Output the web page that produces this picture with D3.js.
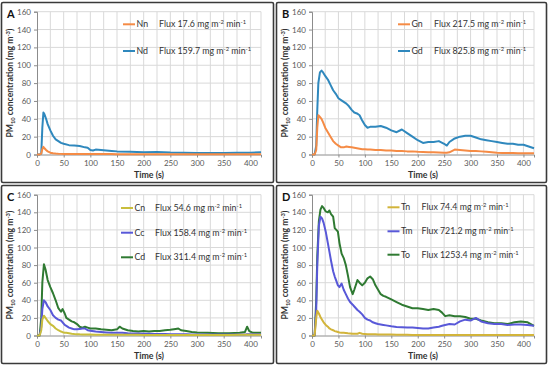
<!DOCTYPE html>
<html>
<head>
<meta charset="utf-8">
<script src="https://cdn.jsdelivr.net/npm/d3@7"></script>
<style>
  html, body { margin: 0; padding: 0; background: #fff; }
  svg { display: block; font-family: Lato, "Open Sans", sans-serif; }
</style>
</head>
<body>
<svg id="chart" width="550" height="367"></svg>
<script>
// Axis ticks shared by all four panels
const xTicks = [0, 50, 100, 150, 200, 250, 300, 350, 400];
const yTicks = [0, 20, 40, 60, 80, 100, 120, 140, 160];

// Panel A
const timeA = [0, 5, 8, 10, 12, 14, 17, 20, 25, 30, 35, 40, 45, 50, 60, 70, 80, 90, 95, 100, 105, 110, 120, 130, 140, 150, 175, 200, 225, 250, 275, 300, 325, 350, 375, 400, 420];
const nd = [0, 0, 1, 30, 47, 45, 40, 34, 27, 21, 17, 15, 13, 12, 10.5, 10, 9.5, 8, 7.5, 5, 4.5, 5.5, 5, 4.5, 4, 3.5, 3, 2.5, 2.8, 2.2, 2, 1.8, 1.7, 1.8, 2, 1.9, 2.5];
const nn = [0, 0, 1, 6, 8.5, 7, 5, 3.5, 2, 1.3, 1, 0.8, 0.7, 0.6, 0.6, 0.5, 0.5, 0.5, 0.5, 0.5, 0.5, 0.5, 0.5, 0.5, 0.5, 0.4, 0.4, 0.4, 0.4, 0.4, 0.4, 0.4, 0.4, 0.4, 0.4, 0.4, 0.4];

// Panel B
const timeB = [0, 5, 8, 10, 12, 15, 18, 21, 25, 30, 35, 40, 45, 50, 55, 60, 65, 70, 75, 80, 85, 90, 95, 100, 105, 110, 120, 130, 140, 150, 160, 170, 180, 190, 200, 210, 220, 230, 240, 250, 255, 260, 270, 280, 290, 300, 310, 320, 330, 340, 350, 360, 370, 380, 390, 400, 410, 420];
const gd = [0, 0, 10, 50, 80, 92, 94, 92, 88, 84, 78, 72, 68, 63, 61, 59, 57, 54, 50, 47, 46, 44, 38, 33, 30, 31, 31, 32, 30, 27, 25, 28, 24, 20, 16, 13, 14, 14, 15, 12, 10, 14, 18, 20, 21, 21, 19, 17, 16, 15, 14, 13, 12, 12, 11, 11, 9, 7];
const gn = [0, 0, 5, 30, 44, 42, 40, 36, 30, 25, 20, 15, 12, 10, 8, 8, 9, 8.5, 8, 7.5, 7, 6.5, 6, 6, 5.5, 5.5, 5, 5, 4.5, 4.5, 4, 4, 3.5, 3.5, 3, 2.8, 2.6, 2.5, 2.3, 2, 2, 2.5, 5.5, 5, 4.5, 4, 3.8, 3.5, 3, 2.5, 2, 1.8, 1.7, 1.6, 1.5, 1.5, 1.5, 1.5];

// Panel C
const timeC = [0, 5, 8, 10, 13, 16, 20, 25, 30, 35, 40, 45, 48, 52, 55, 60, 65, 70, 75, 80, 85, 90, 95, 100, 110, 120, 130, 140, 150, 155, 160, 170, 180, 190, 200, 210, 220, 230, 240, 250, 260, 265, 270, 280, 290, 300, 320, 340, 360, 380, 390, 394, 398, 405, 420];
const cd = [0, 0, 20, 60, 81, 75, 63, 55, 48, 40, 31, 27, 30, 25, 20, 18, 16, 15, 13, 10, 9, 10, 9, 8, 8, 7, 6.5, 6, 7, 10, 8, 6, 5, 4.5, 5, 4.5, 5, 5, 6, 6.5, 7.5, 8, 6, 5, 4, 3.5, 3, 2.5, 2.5, 3, 4, 10, 5, 3, 3];
const cc = [0, 0, 10, 30, 40, 38, 33, 29, 23, 20, 18, 17, 15, 12, 11, 9, 8, 7, 7, 7.5, 8, 8, 6, 5.5, 4.5, 4, 3.5, 3, 3, 3, 3, 2.5, 2.3, 2.2, 2, 2, 1.8, 1.7, 1.6, 1.5, 1.5, 1.5, 1.4, 1.3, 1.2, 1.2, 1.1, 1, 1, 1, 1, 1.5, 1.5, 1.5, 1.5];
const cn = [0, 0, 6, 18, 22.5, 20, 16.5, 13, 11, 8, 6, 4.5, 3.8, 3.2, 3, 2.5, 2, 1.6, 1.5, 1.3, 1.2, 1.1, 1, 1, 0.9, 0.9, 0.8, 0.8, 0.8, 0.8, 0.8, 0.8, 0.8, 0.8, 0.7, 0.7, 0.7, 0.7, 0.7, 0.7, 0.7, 0.7, 0.7, 0.7, 0.7, 0.7, 0.7, 0.7, 0.7, 0.8, 0.8, 0.8, 0.8, 0.8, 0.8];

// Panel D
const timeD = [0, 5, 8, 10, 13, 16, 19, 22, 26, 30, 33, 36, 40, 43, 46, 49, 52, 56, 60, 64, 68, 72, 77, 80, 86, 90, 95, 100, 105, 110, 115, 120, 125, 130, 135, 140, 150, 160, 170, 180, 190, 200, 210, 220, 230, 240, 246, 252, 260, 270, 280, 290, 300, 310, 320, 333, 345, 358, 370, 383, 395, 408, 420];
const to = [0, 0, 40, 90, 130, 143, 147, 145, 141, 140, 142, 138, 135, 122, 120, 118, 105, 93, 88, 80, 68, 55, 47, 52, 63, 60, 57, 60, 65, 67, 64, 57, 52, 47, 45, 44, 41, 38, 35, 33, 31, 31, 30, 29, 30, 29, 26, 22, 23, 22, 22, 21, 19, 19, 17, 15, 14, 14, 13, 15, 16, 15, 11];
const tm = [0, 0, 30, 80, 125, 135, 133, 128, 118, 105, 95, 85, 73, 67, 62, 57, 55, 59, 52, 47, 42, 38, 35, 33, 29, 27, 24, 20, 18, 17, 15, 14, 13, 12.5, 12, 11.5, 10.5, 9.7, 9.5, 9, 9, 8.5, 8, 8, 9, 10, 11, 12, 13, 12.5, 16, 18, 17, 20, 16, 14, 13, 13, 12, 12.5, 12.5, 12, 11];
const tn = [0, 0, 20, 28, 25, 21, 18, 15, 12, 10, 8, 7, 6, 5, 4.5, 4, 3.5, 3.2, 3, 2.8, 2.5, 2.3, 2, 2, 2, 3, 2, 1.8, 1.5, 1.5, 1.4, 1.3, 1.2, 1.2, 1.1, 1, 1, 0.9, 0.8, 0.8, 0.7, 0.6, 0.6, 0.6, 0.5, 0.5, 0.5, 0.5, 0.5, 0.5, 0.5, 0.5, 0.5, 0.5, 0.5, 0.5, 0.5, 0.5, 0.5, 0.5, 0.5, 0.5, 0.5];

const panels = [
  { letter: "A", x: 1, y: 2, w: 272, h: 180, time: timeA, legendX: 86, legendY: [12.6, 39.3], flux: 36,
    series: [
      { name: "Nn", flux: "17.6", values: nn, color: "#F58B45" },
      { name: "Nd", flux: "159.7", values: nd, color: "#2F88BD" }
    ] },
  { letter: "B", x: 276, y: 2, w: 270, h: 180, time: timeB, legendX: 86, legendY: [12.6, 39.3], flux: 36,
    series: [
      { name: "Gn", flux: "217.5", values: gn, color: "#F58B45" },
      { name: "Gd", flux: "825.8", values: gd, color: "#2F88BD" }
    ] },
  { letter: "C", x: 1, y: 185, w: 272, h: 178, time: timeC, legendX: 84, legendY: [13.3, 38, 62.6], flux: 34,
    series: [
      { name: "Cn", flux: "54.6", values: cn, color: "#C9BE3C" },
      { name: "Cc", flux: "158.4", values: cc, color: "#5858D8" },
      { name: "Cd", flux: "311.4", values: cd, color: "#2F7A32" }
    ] },
  { letter: "D", x: 276, y: 185, w: 270, h: 178, time: timeD, legendX: 75.5, legendY: [12.6, 36.6, 60], flux: 34,
    series: [
      { name: "Tn", flux: "74.4", values: tn, color: "#D2B43A" },
      { name: "Tm", flux: "721.2", values: tm, color: "#5858D8" },
      { name: "To", flux: "1253.4", values: to, color: "#2F7A32" }
    ] }
];

const svg = d3.select("#chart");
const margin = { left: 36, top: 9.7, right: 12, bottom: 27.5 };

panels.forEach(p => {
  const g = svg.append("g").attr("transform", `translate(${p.x},${p.y})`);

  // Panel frame
  g.append("rect")
    .attr("x", 0.5).attr("y", 0.5)
    .attr("width", p.w).attr("height", p.h)
    .attr("rx", 1.5)
    .attr("fill", "#fff")
    .attr("stroke", "#3a3a3a")
    .attr("stroke-width", 1.6);

  const pw = p.w - margin.left - margin.right;
  const ph = p.h - margin.top - margin.bottom;

  const x = d3.scaleLinear().domain([0, 420]).range([0, pw]);
  const y = d3.scaleLinear().domain([0, 160]).range([ph, 0]);

  const plot = g.append("g").attr("transform", `translate(${margin.left},${margin.top})`);

  // Gridlines: vertical every 25 s, horizontal every 20
  plot.append("g")
    .selectAll("line")
    .data(d3.range(25, 420, 25))
    .join("line")
    .attr("x1", d => x(d)).attr("x2", d => x(d))
    .attr("y1", 0).attr("y2", ph)
    .attr("stroke", "#d9d9d9").attr("stroke-width", 1);

  plot.append("g")
    .selectAll("line")
    .data(yTicks.slice(1))
    .join("line")
    .attr("x1", 0).attr("x2", pw)
    .attr("y1", d => y(d)).attr("y2", d => y(d))
    .attr("stroke", "#d9d9d9").attr("stroke-width", 1);

  plot.append("line")
    .attr("x1", pw).attr("x2", pw).attr("y1", 0).attr("y2", ph)
    .attr("stroke", "#d9d9d9");

  // Axes
  const xAxis = plot.append("g")
    .attr("transform", `translate(0,${ph})`)
    .call(d3.axisBottom(x).tickValues(xTicks).tickSize(3).tickPadding(3));
  const yAxis = plot.append("g")
    .call(d3.axisLeft(y).tickValues(yTicks).tickSize(3).tickPadding(3));

  [xAxis, yAxis].forEach(a => {
    a.select(".domain").attr("stroke", "#8c8c8c");
    a.selectAll(".tick line").attr("stroke", "#8c8c8c");
    a.selectAll("text")
      .attr("fill", "#595959")
      .style("font-size", "8px")
      .style("font-family", "Lato, sans-serif");
  });

  // Lines
  const line = d3.line()
    .x((d, i) => x(p.time[i]))
    .y(d => y(d));

  p.series.slice().reverse().forEach(s => {
    plot.append("path")
      .datum(s.values)
      .attr("d", line)
      .attr("fill", "none")
      .attr("stroke", s.color)
      .attr("stroke-width", 2)
      .attr("stroke-linejoin", "round");
  });

  // Legend
  p.series.forEach((s, i) => {
    const ly = p.legendY[i];
    plot.append("line")
      .attr("x1", p.legendX).attr("x2", p.legendX + 12)
      .attr("y1", ly).attr("y2", ly)
      .attr("stroke", s.color).attr("stroke-width", 2);
    plot.append("text")
      .attr("x", p.legendX + 13.5).attr("y", ly + 3)
      .attr("fill", "#333")
      .style("font-size", "8.8px")
      .text(s.name);
    const t = plot.append("text")
      .attr("x", p.legendX + p.flux).attr("y", ly + 3)
      .attr("fill", "#333")
      .style("font-size", "8.8px");
    t.append("tspan").text(`Flux ${s.flux} mg m`);
    t.append("tspan").attr("dy", -3).style("font-size", "5.8px").text("-2");
    t.append("tspan").attr("dy", 3).text(" min");
    t.append("tspan").attr("dy", -3).style("font-size", "5.8px").text("-1");
  });

  // Axis titles
  plot.append("text")
    .attr("x", pw / 2).attr("y", ph + 23.5)
    .attr("text-anchor", "middle")
    .attr("fill", "#333")
    .style("font-size", "8.8px")
    .style("font-weight", "bold")
    .text("Time (s)");

  const yl = plot.append("text")
    .attr("transform", `translate(-24,${ph / 2}) rotate(-90)`)
    .attr("text-anchor", "middle")
    .attr("fill", "#333")
    .style("font-size", "8.6px")
    .style("font-weight", "bold");
  yl.append("tspan").text("PM");
  yl.append("tspan").attr("dy", 2).style("font-size", "5.8px").text("10");
  yl.append("tspan").attr("dy", -2).text(" concentration (mg m");
  yl.append("tspan").attr("dy", -3).style("font-size", "5.8px").text("-3");
  yl.append("tspan").attr("dy", 3).text(")");

  // Panel letter
  g.append("text")
    .attr("x", 6).attr("y", 16)
    .attr("fill", "#111")
    .style("font-size", "11px")
    .style("font-weight", "bold")
    .text(p.letter);
});
</script>
</body>
</html>
